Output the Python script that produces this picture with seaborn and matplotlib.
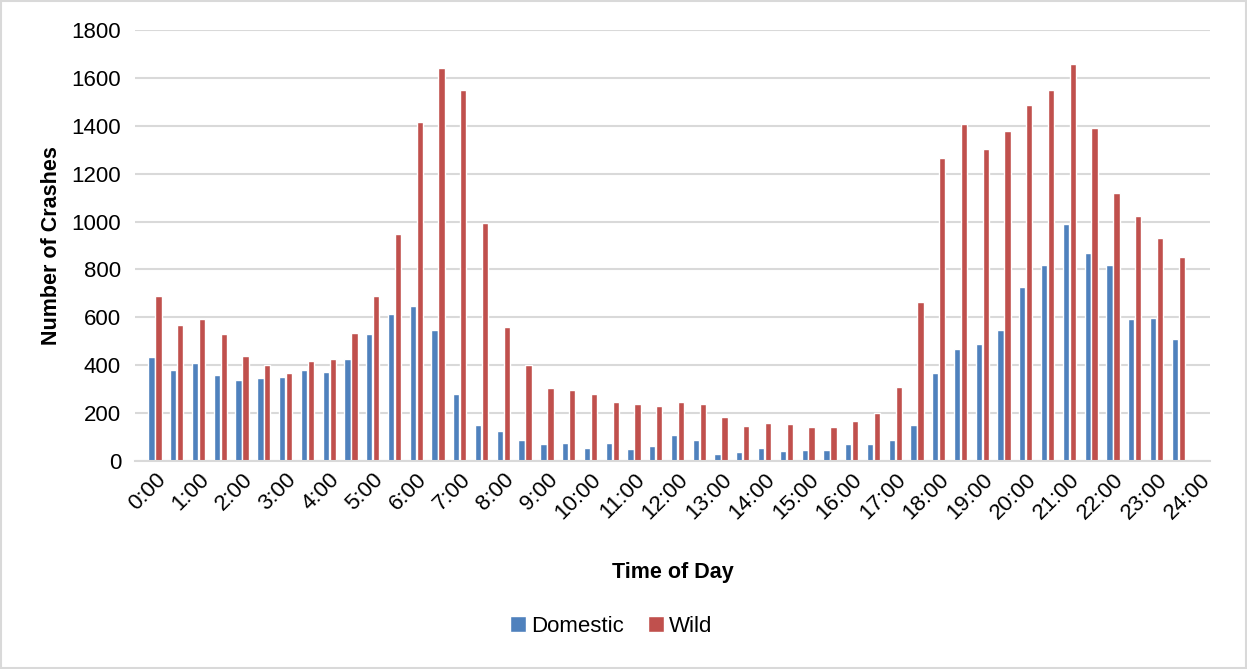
import numpy as np
import pandas as pd
import matplotlib
matplotlib.use("Agg")
import matplotlib.pyplot as plt
import seaborn as sns
from matplotlib.patches import Rectangle

# ---- data ----
times = [f"{h}:{m:02d}" for h in range(24) for m in (0, 30)] + ["24:00"]
domestic = [433, 379, 408, 361, 338, 345, 349, 379, 370, 425, 530, 615, 646, 546, 278, 150,
            127, 88, 71, 74, 55, 76, 52, 63, 109, 88, 29, 38, 55, 43, 45, 46,
            71, 70, 87, 150, 369, 469, 487, 548, 725, 820, 989, 868, 817, 594, 596, 508, np.nan]
wild = [688, 568, 592, 529, 437, 400, 366, 418, 425, 535, 689, 948, 1416, 1641, 1549, 994,
        561, 403, 306, 295, 280, 248, 236, 229, 245, 239, 185, 147, 158, 154, 141, 144,
        169, 201, 308, 663, 1265, 1408, 1305, 1378, 1486, 1550, 1659, 1391, 1118, 1023, 932, 850, np.nan]
series_names = ["Domestic", "Wild"]
colors = ["#4F81BD", "#C0504D"]
tick_labels = [f"{h}:00" for h in range(25)]

df = pd.DataFrame({
    "Time": times * 2,
    "Count": domestic + wild,
    "Type": [series_names[0]] * len(times) + [series_names[1]] * len(times),
})

sns.set_theme(style="white")
plt.rcParams["font.family"] = ["Liberation Sans", "DejaVu Sans"]
plt.rcParams["text.color"] = "black"
plt.rcParams["axes.labelcolor"] = "black"
plt.rcParams["xtick.color"] = "black"
plt.rcParams["ytick.color"] = "black"

fig = plt.figure(figsize=(12.47, 6.69), dpi=100)
ax = fig.add_axes([135 / 1247, 1 - 461 / 669, (1210 - 135) / 1247, (461 - 30) / 669])

sns.barplot(data=df, x="Time", y="Count", hue="Type", order=times,
            hue_order=series_names, palette=colors, width=0.64, gap=0.1,
            saturation=1, ax=ax, legend=True)

ax.set_xlim(-0.92, 48.46)
ax.set_ylim(0, 1800)
ax.set_yticks(range(0, 1801, 200))
ax.yaxis.grid(True, color="#D9D9D9", linewidth=1.5)
ax.set_axisbelow(True)
for s in ["top", "right", "left"]:
    ax.spines[s].set_visible(False)
ax.spines["bottom"].set_color("#D9D9D9")
ax.spines["bottom"].set_linewidth(1.5)

ax.set_xticks(range(0, 49, 2))
ax.set_xticklabels(tick_labels, rotation=45, ha="right", rotation_mode="anchor", fontsize=16)
ax.tick_params(axis="x", length=0, pad=6)
ax.tick_params(axis="y", length=0, pad=10, labelsize=16)

ax.set_xlabel("Time of Day", fontsize=15.5, fontweight="bold", labelpad=28)
ax.set_ylabel("Number of Crashes", fontsize=15.5, fontweight="bold", labelpad=7)

handles, labels = ax.get_legend_handles_labels()
ax.get_legend().remove()
fig.legend(handles, labels, loc="center", bbox_to_anchor=(611 / 1247, 1 - 626 / 669),
           ncol=2, frameon=False, fontsize=16, handlelength=0.7, handleheight=0.7,
           handletextpad=0.22, columnspacing=1.1)

fig.patches.append(Rectangle((0.001, 0.001), 0.998, 0.997, transform=fig.transFigure,
                             fill=False, edgecolor="#D9D9D9", linewidth=1.5))

fig.savefig("out.png", dpi=100)
